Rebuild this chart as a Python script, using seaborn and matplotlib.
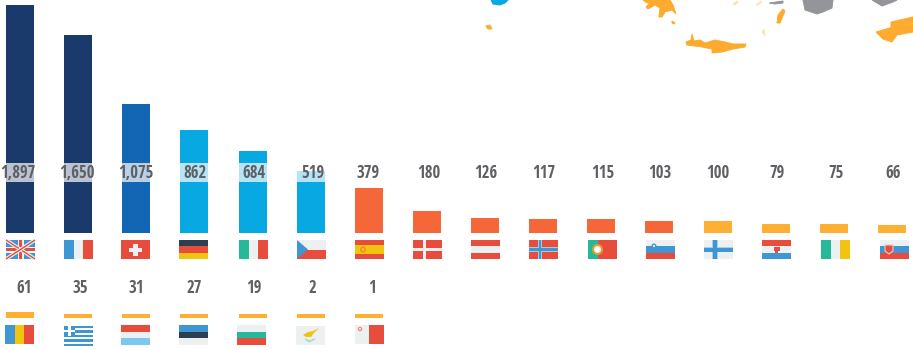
import matplotlib
matplotlib.use("Agg")
import matplotlib.pyplot as plt
import numpy as np
import pandas as pd
import seaborn as sns
from matplotlib.patches import Polygon, Rectangle, Circle

# ---- data -------------------------------------------------------------
codes_top = ["UK", "FR", "CH", "DE", "IT", "CZ", "ES", "DK", "AT", "NO", "PT", "SI", "FI", "HR", "IE", "SK"]
values_top = [1897, 1650, 1075, 862, 684, 519, 379, 180, 126, 117, 115, 103, 100, 79, 75, 66]
codes_bottom = ["RO", "GR", "LU", "EE", "BG", "CY", "MT"]
values_bottom = [61, 35, 31, 27, 19, 2, 1]

NAVY, BLUE, SKY, CORAL, AMBER = "#1a3a6b", "#1366b3", "#08a8e2", "#f56738", "#fdb033"
colors_top = [NAVY, NAVY, BLUE, SKY, SKY, SKY, CORAL, CORAL, CORAL, CORAL, CORAL, CORAL,
              AMBER, AMBER, AMBER, AMBER]
colors_bottom = [AMBER] * 7

# ---- layout (pixels) ---------------------------------------------------
W, H = 913, 350
STEP = 58.13
FIRST = 20.0
BAR_W = 28 / STEP
xlim = (-FIRST / STEP, (W - FIRST) / STEP)
BASE_TOP, SCALE_TOP = 233.0, 0.12
BASE_BOT, SCALE_BOT, FLOOR_BOT = 317.5, 0.086, 35
TOP_BOT = 270.0
TEXT_C = "#5f6064"
FONT = ["Open Sans Condensed", "Roboto Condensed", "DejaVu Sans"]

sns.set_theme(style="white")
plt.rcParams["font.family"] = FONT
fig = plt.figure(figsize=(W / 100, H / 100), dpi=100, facecolor="white")


def make_axes(top, base):
    ax = fig.add_axes([0, 1 - base / H, 1, (base - top) / H])
    ax.set_axis_off()
    return ax


def draw_row(ax, codes, heights, colors):
    df = pd.DataFrame({"code": codes, "value": heights})
    sns.barplot(data=df, x="code", y="value", hue="code", palette=colors, width=BAR_W,
                dodge=False, legend=False, saturation=1, ax=ax, order=codes, linewidth=0)
    ax.set_xlim(*xlim)
    ax.set_axis_off()


def labels(ax, values, y, offsets):
    for i, (v, dx) in enumerate(zip(values, offsets)):
        ax.text(i + dx / STEP, y, f"{v:,}", ha="center", va="center", fontsize=12,
                fontweight="bold", color=TEXT_C, zorder=6)


# ---- top row -----------------------------------------------------------
ax1 = make_axes(0, BASE_TOP)
draw_row(ax1, codes_top, values_top, colors_top)
ax1.set_ylim(0, BASE_TOP / SCALE_TOP)
ax1.axhspan((BASE_TOP - 182) / SCALE_TOP, (BASE_TOP - 163) / SCALE_TOP, color="white",
            alpha=0.7, lw=0, zorder=5)
labels(ax1, values_top, (BASE_TOP - 173) / SCALE_TOP,
       [-2, -1, 0, 1, 1, 2, -1, 2, 1, 1, 2, 0, 0, 1, 2, 1])

# ---- bottom row --------------------------------------------------------
ax2 = make_axes(TOP_BOT, BASE_BOT)
draw_row(ax2, codes_bottom + [f"_{i}" for i in range(9)],
         list(np.maximum(values_bottom, FLOOR_BOT)) + [0] * 9, colors_bottom + ["white"] * 9)
ax2.set_ylim(0, (BASE_BOT - TOP_BOT) / SCALE_BOT)
labels(ax2, values_bottom, (BASE_BOT - 288) / SCALE_BOT, [4, 2, 0, 0, 1, 2, 3])

# ---- overlay in pixel coordinates: flags and map fragments -------------
ov = fig.add_axes([0, 0, 1, 1], facecolor="none")
ov.set_xlim(0, W)
ov.set_ylim(H, 0)
ov.set_axis_off()

R, B, L, Y, G, D, LB = "#e74c3c", "#3e97d3", "#ecf0f1", "#f1c40f", "#26b999", "#2c3e50", "#7cc8f0"


def rect(x, y, w, h, c, **k):
    ov.add_patch(Rectangle((x, y), w, h, fc=c, ec="none", **k))


def hs(x, y, w, h, cols, fr=None):
    fr = fr or [1 / len(cols)] * len(cols)
    t = y
    for c, f in zip(cols, fr):
        rect(x, t, w, h * f, c)
        t += h * f


def vs(x, y, w, h, cols, fr=None):
    fr = fr or [1 / len(cols)] * len(cols)
    t = x
    for c, f in zip(cols, fr):
        rect(t, y, w * f, h, c)
        t += w * f


def cross(x, y, w, h, bg, cc, cx=0.38, th=3.0, inner=None):
    rect(x, y, w, h, bg)
    rect(x, y + h / 2 - th / 2, w, th, cc)
    rect(x + w * cx - th / 2, y, th, h, cc)
    if inner:
        rect(x, y + h / 2 - th / 4, w, th / 2, inner)
        rect(x + w * cx - th / 4, y, th / 2, h, inner)


def flag(code, x, y, w=29, h=19):
    if code == "UK":
        rect(x, y, w, h, B)
        for a, b in (((x, y), (x + w, y + h)), ((x, y + h), (x + w, y))):
            ov.plot([a[0], b[0]], [a[1], b[1]], color=L, lw=2.6, solid_capstyle="butt")
            ov.plot([a[0], b[0]], [a[1], b[1]], color=R, lw=1.0, solid_capstyle="butt")
        rect(x, y + 6.5, w, 6, L); rect(x + 11.5, y, 6, h, L)
        rect(x, y + 8, w, 3, R); rect(x + 13, y, 3, h, R)
    elif code == "FR":
        vs(x, y, w, h, [B, L, R])
    elif code == "CH":
        rect(x, y, w, h, R)
        rect(x + 8, y + 7.5, 13, 4.5, L); rect(x + 12.3, y + 3.5, 4.5, 12, L)
    elif code == "DE":
        hs(x, y, w, h, [D, R, Y])
    elif code == "IT":
        vs(x, y, w, h, [G, L, R])
    elif code == "CZ":
        hs(x, y, w, h, [L, R])
        ov.add_patch(Polygon([(x, y), (x + 11, y + h / 2), (x, y + h)], fc=B, ec="none"))
    elif code == "ES":
        hs(x, y, w, h, [R, Y, R], [.25, .5, .25])
        ov.add_patch(Circle((x + 8, y + 9.5), 2.3, fc="none", ec="#ee8a34", lw=1))
    elif code == "DK":
        cross(x, y, w, h, R, L, cx=0.38, th=3)
    elif code == "AT":
        hs(x, y, w, h, [R, L, R])
    elif code == "NO":
        cross(x, y, w, h, R, "#a9c9e2", cx=0.38, th=4.5, inner=B)
    elif code == "PT":
        vs(x, y, w, h, [G, R], [.35, .65])
        ov.add_patch(Circle((x + 9.5, y + 9.5), 4.5, fc=L, ec="#e0a030", lw=1.4))
        ov.add_patch(Circle((x + 9.5, y + 9.5), 2, fc="white", ec="none"))
    elif code == "SI":
        hs(x, y, w, h, [L, B, R])
        ov.add_patch(Circle((x + 8, y + 6), 2.5, fc=B, ec="none"))
        ov.add_patch(Circle((x + 8, y + 6), 1.1, fc=L, ec="none"))
    elif code == "FI":
        cross(x, y, w, h, L, "#a9cde6", cx=0.38, th=5.5)
        rect(x, y + 7.5, w, 4, B); rect(x + 9, y, 4, h, B)
    elif code == "HR":
        hs(x, y, w, h, [R, L, B])
        rect(x + 11.5, y + 7, 6, 4, R); rect(x + 13, y + 10, 3, 2.5, R)
    elif code == "IE":
        vs(x, y, w, h, [G, L, Y])
    elif code == "SK":
        hs(x, y, w, h, [L, B, R])
        ov.add_patch(Polygon([(x + 5, y + 5), (x + 13, y + 5), (x + 13, y + 11), (x + 9, y + 14), (x + 5, y + 11)],
                             fc=R, ec="#f3c6c0", lw=0.8))
    elif code == "RO":
        vs(x, y, w, h, [B, Y, R])
    elif code == "GR":
        for k in range(9):
            rect(x, y + k * h / 9, w, h / 9, B if k % 2 == 0 else "white")
        rect(x, y, 11, 4 * h / 9 + 1, B)
        rect(x + 4, y, 3, 4 * h / 9 + 1, "white"); rect(x, y + 4, 11, 2.4, "white")
    elif code == "LU":
        hs(x, y, w, h, [R, L, LB])
    elif code == "EE":
        hs(x, y, w, h, [B, D, L])
    elif code == "BG":
        hs(x, y, w, h, [L, G, R])
    elif code == "CY":
        rect(x, y, w, h, L)
        ov.add_patch(Polygon([(x + 7, y + 9), (x + 12, y + 6), (x + 17, y + 5), (x + 23, y + 2),
                              (x + 18, y + 7), (x + 15, y + 11), (x + 10, y + 11)], fc=Y, ec="none"))
        ov.add_patch(Polygon([(x + 9, y + 13), (x + 13, y + 16), (x + 19, y + 13), (x + 14, y + 15)],
                             fc="#a6dccc", ec="#a6dccc", lw=0.8))
    elif code == "MT":
        vs(x, y, w, h, [L, R], [.48, .52])
        ov.add_patch(Circle((x + 5, y + 4), 1.6, fc="none", ec="#eb8b80", lw=0.9))


lefts_top = [6, 64, 121, 179, 239, 297, 355, 413, 471, 529, 588, 646, 704, 762, 821, 880]
for c, x in zip(codes_top, lefts_top):
    flag(c, x, 240)
lefts_bot = [5, 64, 121, 179, 237, 296, 355]
tops_bot = [325, 326, 325, 325, 325, 326, 325]
heights_bot = [19, 20, 20, 20, 20, 19, 19]
for c, x, t, h in zip(codes_bottom, lefts_bot, tops_bot, heights_bot):
    flag(c, x, t, 29, h)

ORANGE, GREY, CYAN, PALE = "#fdab2f", "#939598", "#08a8e2", "#fde3b8"
fragments = [
    (CYAN, [(491, 0), (493, 4), (500, 5), (505, 3), (508, 0)]),
    (ORANGE, [(486, 26), (490, 25), (492, 29), (488, 29)]),
    (ORANGE, [(643, 0), (647, 3), (650, 3), (646, 7), (648, 9), (655, 5), (660, 8), (659, 17),
              (662, 17), (665, 12), (672, 10), (676, 14), (673, 5), (670, 0)]),
    (ORANGE, [(672, 21), (675, 23), (674, 24), (672, 23)]),
    (ORANGE, [(686, 42), (687, 45), (702, 47), (712, 49), (712, 53), (722, 52), (733, 49), (745, 47),
              (746, 44), (733, 44), (725, 42), (715, 40), (705, 43), (700, 40), (694, 41), (692, 34), (691, 40)]),
    (ORANGE, [(777, 23), (778, 15), (783, 9), (785, 11), (780, 23)]),
    (PALE, [(733, 4), (737, 1), (738, 2), (735, 5)]),
    (PALE, [(756, 5), (761, 1), (762, 2), (758, 5)]),
    (PALE, [(762, 32), (764, 29), (765, 36)]),
    (GREY, [(769, 3), (783, 1), (783, 3), (775, 4)]),
    (GREY, [(803, 0), (805, 10), (817, 14), (823, 12), (832, 8), (833, 0)]),
    (GREY, [(872, 0), (882, 6), (893, 2), (897, 0)]),
    (ORANGE, [(891, 22), (913, 17), (913, 23), (891, 27)]),
    (ORANGE, [(876, 32), (893, 27), (913, 24), (913, 32), (897, 35), (892, 42), (883, 39)]),
]
for c, pts in fragments:
    ov.add_patch(Polygon(pts, fc=c, ec=c, lw=0.7))

fig.savefig("out.png", dpi=100, facecolor="white")
